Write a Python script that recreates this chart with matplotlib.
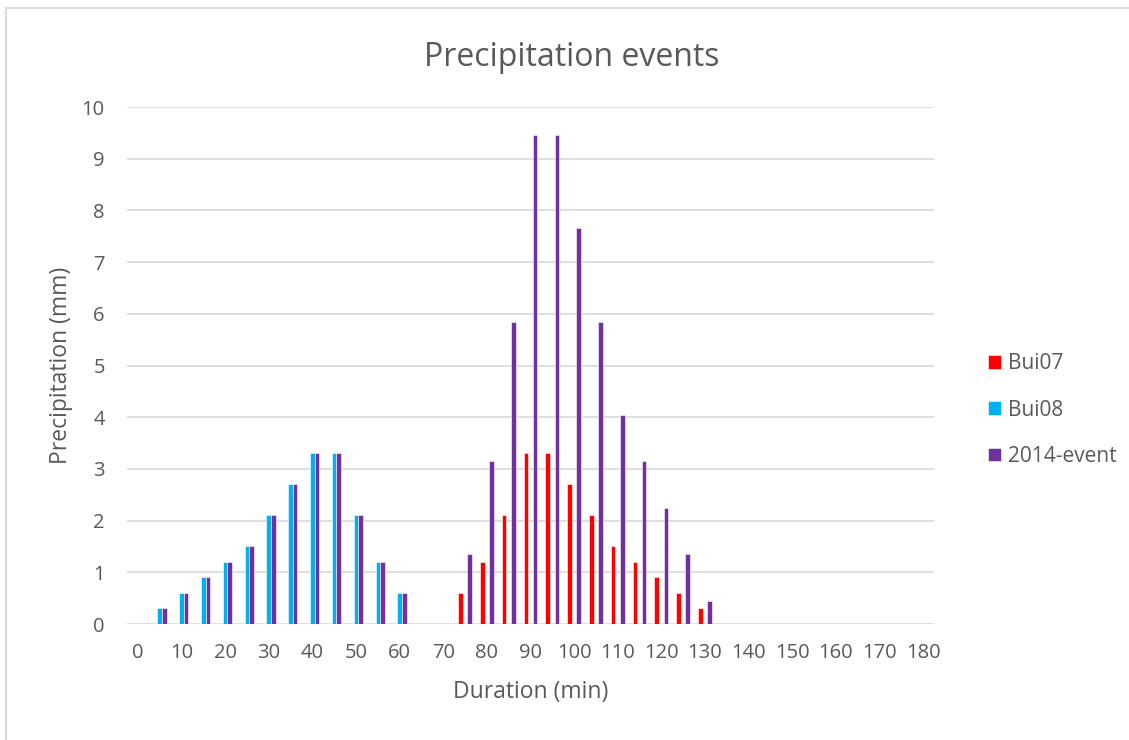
import numpy as np
import matplotlib
matplotlib.use("Agg")
import matplotlib.pyplot as plt
from matplotlib.lines import Line2D

plt.rcParams['font.family'] = ['Open Sans', 'DejaVu Sans']

# Data (duration in minutes, precipitation in mm)
categories = list(range(0, 185, 5))
tick_labels = [str(c) for c in categories[::2]]

bui07_x = [75, 80, 85, 90, 95, 100, 105, 110, 115, 120, 125, 130]
bui07 = [0.6, 1.2, 2.1, 3.3, 3.3, 2.7, 2.1, 1.5, 1.2, 0.9, 0.6, 0.3]

bui08_x = [5, 10, 15, 20, 25, 30, 35, 40, 45, 50, 55, 60]
bui08 = [0.3, 0.6, 0.9, 1.2, 1.5, 2.1, 2.7, 3.3, 3.3, 2.1, 1.2, 0.6]

event_x = bui08_x + bui07_x
event = [0.3, 0.6, 0.9, 1.2, 1.5, 2.1, 2.7, 3.3, 3.3, 2.1, 1.2, 0.6,
         1.35, 3.15, 5.85, 9.45, 9.45, 7.65, 5.85, 4.05, 3.15, 2.25, 1.35, 0.45]

text_col = '#595959'
grid_col = '#D9D9D9'

fig = plt.figure(figsize=(11.29, 7.40), dpi=100)
ax = fig.add_axes([127/1129, 1-624/740, (934-127)/1129, (624-107)/740])

slot = 1.05  # width of one bar within a 5-minute category
ax.bar(np.array(bui07_x) - slot, bui07, width=slot, color='#FF0000',
       edgecolor='white', linewidth=0.4, label='Bui07', zorder=3)
ax.bar(np.array(bui08_x), bui08, width=slot, color='#00B0F0',
       edgecolor='white', linewidth=0.4, label='Bui08', zorder=3)
ax.bar(np.array(event_x) + slot, event, width=slot, color='#7030A0',
       edgecolor='white', linewidth=0.4, label='2014-event', zorder=3)

ax.set_xlim(-2.5, 182.5)
ax.set_ylim(0, 10)
ax.set_yticks(range(0, 11))
ax.set_xticks(categories[::2])
ax.set_xticklabels(tick_labels)
ax.yaxis.grid(True, color=grid_col, linewidth=1.2, zorder=0)
ax.set_axisbelow(True)
for s in ax.spines.values():
    s.set_visible(False)
ax.tick_params(axis='both', length=0, colors=text_col, labelsize=14.5)
ax.tick_params(axis='y', pad=16)
ax.tick_params(axis='x', pad=14)

ax.set_xlabel('Duration (min)', fontsize=16.5, color=text_col, labelpad=12)
ax.set_ylabel('Precipitation (mm)', fontsize=16.5, color=text_col, labelpad=6)
fig.text(572/1129, 1-57/740, 'Precipitation events', fontsize=23,
         color=text_col, ha='center', va='center')

leg = ax.legend(loc='center left', bbox_to_anchor=(988/1129, 1-410/740),
                bbox_transform=fig.transFigure, frameon=False, borderpad=0,
                borderaxespad=0, fontsize=15, handlelength=0.62,
                handleheight=0.62, handletextpad=0.35, labelspacing=1.22)
for t in leg.get_texts():
    t.set_color(text_col)

# chart border (top and left edges visible)
fig.add_artist(Line2D([6/1129, 1], [1-8/740, 1-8/740], color=grid_col, linewidth=1.6))
fig.add_artist(Line2D([6/1129, 6/1129], [0, 1-8/740], color=grid_col, linewidth=1.6))

fig.savefig('out.png', dpi=100)
